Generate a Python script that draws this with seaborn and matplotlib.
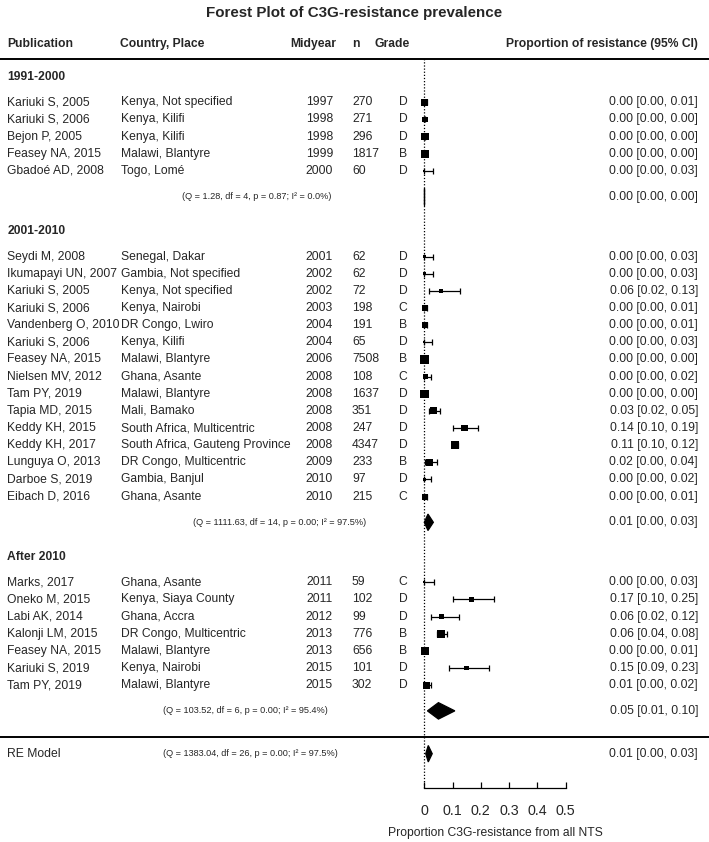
import numpy as np
import pandas as pd
import matplotlib
matplotlib.use("Agg")
import matplotlib.pyplot as plt
import seaborn as sns

# study level data
period = ["1991-2000"] * 5 + ["2001-2010"] * 15 + ["After 2010"] * 7
publication = [
    "Kariuki S, 2005", "Kariuki S, 2006", "Bejon P, 2005", "Feasey NA, 2015", "Gbadoé AD, 2008",
    "Seydi M, 2008", "Ikumapayi UN, 2007", "Kariuki S, 2005", "Kariuki S, 2006", "Vandenberg O, 2010",
    "Kariuki S, 2006", "Feasey NA, 2015", "Nielsen MV, 2012", "Tam PY, 2019", "Tapia MD, 2015",
    "Keddy KH, 2015", "Keddy KH, 2017", "Lunguya O, 2013", "Darboe S, 2019", "Eibach D, 2016",
    "Marks, 2017", "Oneko M, 2015", "Labi AK, 2014", "Kalonji LM, 2015", "Feasey NA, 2015",
    "Kariuki S, 2019", "Tam PY, 2019",
]
place = [
    "Kenya, Not specified", "Kenya, Kilifi", "Kenya, Kilifi", "Malawi, Blantyre", "Togo, Lomé",
    "Senegal, Dakar", "Gambia, Not specified", "Kenya, Not specified", "Kenya, Nairobi", "DR Congo, Lwiro",
    "Kenya, Kilifi", "Malawi, Blantyre", "Ghana, Asante", "Malawi, Blantyre", "Mali, Bamako",
    "South Africa, Multicentric", "South Africa, Gauteng Province", "DR Congo, Multicentric",
    "Gambia, Banjul", "Ghana, Asante",
    "Ghana, Asante", "Kenya, Siaya County", "Ghana, Accra", "DR Congo, Multicentric",
    "Malawi, Blantyre", "Kenya, Nairobi", "Malawi, Blantyre",
]
midyear = [1997, 1998, 1998, 1999, 2000,
           2001, 2002, 2002, 2003, 2004, 2004, 2006, 2008, 2008, 2008, 2008, 2008, 2009, 2010, 2010,
           2011, 2011, 2012, 2013, 2013, 2015, 2015]
n = [270, 271, 296, 1817, 60,
     62, 62, 72, 198, 191, 65, 7508, 108, 1637, 351, 247, 4347, 233, 97, 215,
     59, 102, 99, 776, 656, 101, 302]
grade = list("DDDBD" + "DDDCBDBCDDDDBDC" + "CDDBBDD")
est = [0.002, 0.001, 0.002, 0.002, 0.000,
       0.000, 0.000, 0.058, 0.002, 0.002, 0.000, 0.001, 0.003, 0.001, 0.032,
       0.142, 0.108, 0.020, 0.001, 0.002,
       0.000, 0.167, 0.061, 0.060, 0.003, 0.149, 0.007]
lower = [0.000, 0.000, 0.000, 0.000, 0.000,
         0.000, 0.000, 0.016, 0.000, 0.000, 0.000, 0.000, 0.000, 0.000, 0.017,
         0.103, 0.099, 0.004, 0.000, 0.000,
         0.000, 0.103, 0.023, 0.045, 0.000, 0.088, 0.002]
upper = [0.008, 0.004, 0.004, 0.004, 0.031,
         0.031, 0.031, 0.126, 0.008, 0.009, 0.028, 0.002, 0.022, 0.003, 0.054,
         0.190, 0.118, 0.044, 0.022, 0.009,
         0.033, 0.248, 0.122, 0.081, 0.008, 0.227, 0.024]
ci_text = [
    "0.00 [0.00, 0.01]", "0.00 [0.00, 0.00]", "0.00 [0.00, 0.00]", "0.00 [0.00, 0.00]", "0.00 [0.00, 0.03]",
    "0.00 [0.00, 0.03]", "0.00 [0.00, 0.03]", "0.06 [0.02, 0.13]", "0.00 [0.00, 0.01]", "0.00 [0.00, 0.01]",
    "0.00 [0.00, 0.03]", "0.00 [0.00, 0.00]", "0.00 [0.00, 0.02]", "0.00 [0.00, 0.00]", "0.03 [0.02, 0.05]",
    "0.14 [0.10, 0.19]", "0.11 [0.10, 0.12]", "0.02 [0.00, 0.04]", "0.00 [0.00, 0.02]", "0.00 [0.00, 0.01]",
    "0.00 [0.00, 0.03]", "0.17 [0.10, 0.25]", "0.06 [0.02, 0.12]", "0.06 [0.04, 0.08]", "0.00 [0.00, 0.01]",
    "0.15 [0.09, 0.23]", "0.01 [0.00, 0.02]",
]
# relative weights (%)
weight = [4.0, 3.6, 4.2, 4.4, 2.2,
          2.3, 2.3, 3.0, 3.6, 3.7, 2.2, 4.6, 3.3, 4.5, 4.1, 3.8, 4.6, 4.0, 2.6, 3.6,
          2.1, 3.2, 3.1, 4.3, 4.4, 3.2, 4.0]

# pooled estimates per subgroup and overall
groups = ["1991-2000", "2001-2010", "After 2010"]
pooled_est = [0.000, 0.013, 0.050]
pooled_lo = [0.000, 0.000, 0.011]
pooled_hi = [0.000, 0.032, 0.108]
pooled_text = ["0.00 [0.00, 0.00]", "0.01 [0.00, 0.03]", "0.05 [0.01, 0.10]"]
het_text = ["(Q = 1.28, df = 4, p = 0.87; I² = 0.0%)",
            "(Q = 1111.63, df = 14, p = 0.00; I² = 97.5%)",
            "(Q = 103.52, df = 6, p = 0.00; I² = 95.4%)"]
overall_est, overall_lo, overall_hi = 0.014, 0.005, 0.028
overall_text = "0.01 [0.00, 0.03]"
overall_het = "(Q = 1383.04, df = 26, p = 0.00; I² = 97.5%)"

xticks = [0, 0.1, 0.2, 0.3, 0.4, 0.5]
xtick_labels = ["0", "0.1", "0.2", "0.3", "0.4", "0.5"]

df = pd.DataFrame({"period": period, "pub": publication, "place": place, "year": midyear,
                   "n": n, "grade": grade, "est": est, "lo": lower, "hi": upper,
                   "ci": ci_text, "w": weight})

# metafor style row layout: each subgroup block, summary 1.5 rows below, heading 1.5 above
rows, head_rows, sum_rows = [], [], []
top = 37
for g in groups:
    k = (df["period"] == g).sum()
    rows += list(range(top, top - k, -1))
    head_rows.append(top + 1.5)
    sum_rows.append(top - k + 1 - 1.5)
    top = top - k - 4
df["row"] = rows
side = 2 + (df["w"] - df["w"].min()) / (df["w"].max() - df["w"].min()) * 6.5
df["box"] = (side * 0.72) ** 2

sns.set_theme(style="white")
plt.rcParams["font.family"] = ["Liberation Sans", "DejaVu Sans"]

W, H = 709, 842
fig = plt.figure(figsize=(W / 100, H / 100), dpi=100)
ax = fig.add_axes([0, 54 / H, 1, 788 / H])
ax.set_xlim(-1.5004, 1.0067)
ax.set_ylim(-3, 42.97)

FS = 8.7
tr = ax.get_yaxis_transform()


def px(x):
    return x / W


# header
hdr = dict(fontsize=FS, fontweight="bold", va="center", transform=tr)
yh = 40.4
ax.text(px(7.5), yh, "Publication", ha="left", **hdr)
ax.text(px(120), yh, "Country, Place", ha="left", **hdr)
ax.text(px(336), yh, "Midyear", ha="right", **hdr)
ax.text(px(352.5), yh, "n", ha="left", **hdr)
ax.text(px(410), yh, "Grade", ha="right", **hdr)
ax.text(px(698), yh, "Proportion of resistance (95% CI)", ha="right", **hdr)
ax.axhline(39.5, color="black", lw=1.4)
ax.axhline(0, color="black", lw=1.4)

# reference line
ax.vlines(0, -3, 39.5, color="black", lw=0.9, linestyles=(0, (1, 1.5)))

# study rows
txt = dict(fontsize=FS, va="center", transform=tr)
for _, r in df.iterrows():
    ax.text(px(7.5), r.row, r.pub, ha="left", **txt)
    ax.text(px(120.5), r.row, r.place, ha="left", **txt)
    ax.text(px(333), r.row, str(r.year), ha="right", **txt)
    ax.text(px(352), r.row, str(r.n), ha="left", **txt)
    ax.text(px(403), r.row, r.grade, ha="center", **txt)
    ax.text(px(698), r.row, r.ci, ha="right", **txt)

ax.errorbar(df["est"], df["row"], xerr=[df["est"] - df["lo"], df["hi"] - df["est"]],
            fmt="none", ecolor="black", elinewidth=0.9, capsize=2.5, capthick=0.9, zorder=2)
sns.scatterplot(data=df, x="est", y="row", size="box",
                sizes=(df["box"].min(), df["box"].max()), marker="s", color="black",
                linewidth=0, legend=False, ax=ax, zorder=3)

# subgroup headings and pooled diamonds
het_x = [182, 193, 163]
h = 0.48
for i, g in enumerate(groups):
    ax.text(px(7.5), head_rows[i], g, ha="left", fontweight="bold", **txt)
    y = sum_rows[i]
    ax.fill([pooled_lo[i], pooled_est[i], pooled_hi[i], pooled_est[i]], [y, y + h, y, y - h],
            facecolor="black", edgecolor="black", lw=0.9, zorder=3)
    ax.text(px(het_x[i]), y, het_text[i], ha="left", fontsize=6.6, va="center", transform=tr)
    ax.text(px(698), y, pooled_text[i], ha="right", **txt)

# overall random effects model
y = -1
ax.fill([overall_lo, overall_est, overall_hi, overall_est], [y, y + h, y, y - h],
        facecolor="black", edgecolor="black", lw=0.9, zorder=3)
ax.text(px(7.5), y, "RE Model", ha="left", **txt)
ax.text(px(163), y, overall_het, ha="left", fontsize=6.6, va="center", transform=tr)
ax.text(px(698), y, overall_text, ha="right", **txt)

# x axis
for s in ["top", "left", "right"]:
    ax.spines[s].set_visible(False)
ax.spines["bottom"].set_bounds(0, 0.5)
ax.spines["bottom"].set_color("black")
ax.spines["bottom"].set_linewidth(0.9)
ax.set_xticks(xticks)
ax.set_xticklabels(xtick_labels)
ax.set_yticks([])
ax.tick_params(axis="x", direction="in", length=4.5, width=0.9, color="black",
               labelsize=10.3, pad=11.5, bottom=True)
ax.set_xlabel("")
ax.set_ylabel("")
ax.text(0.25, -0.0571, "Proportion C3G-resistance from all NTS", ha="center", va="center",
        fontsize=FS, transform=ax.get_xaxis_transform())
ax.grid(False)

fig.text(0.5, 1 - 13 / H, "Forest Plot of C3G-resistance prevalence", ha="center", va="center",
         fontsize=10.9, fontweight="bold")

fig.savefig("out.png", dpi=100)
